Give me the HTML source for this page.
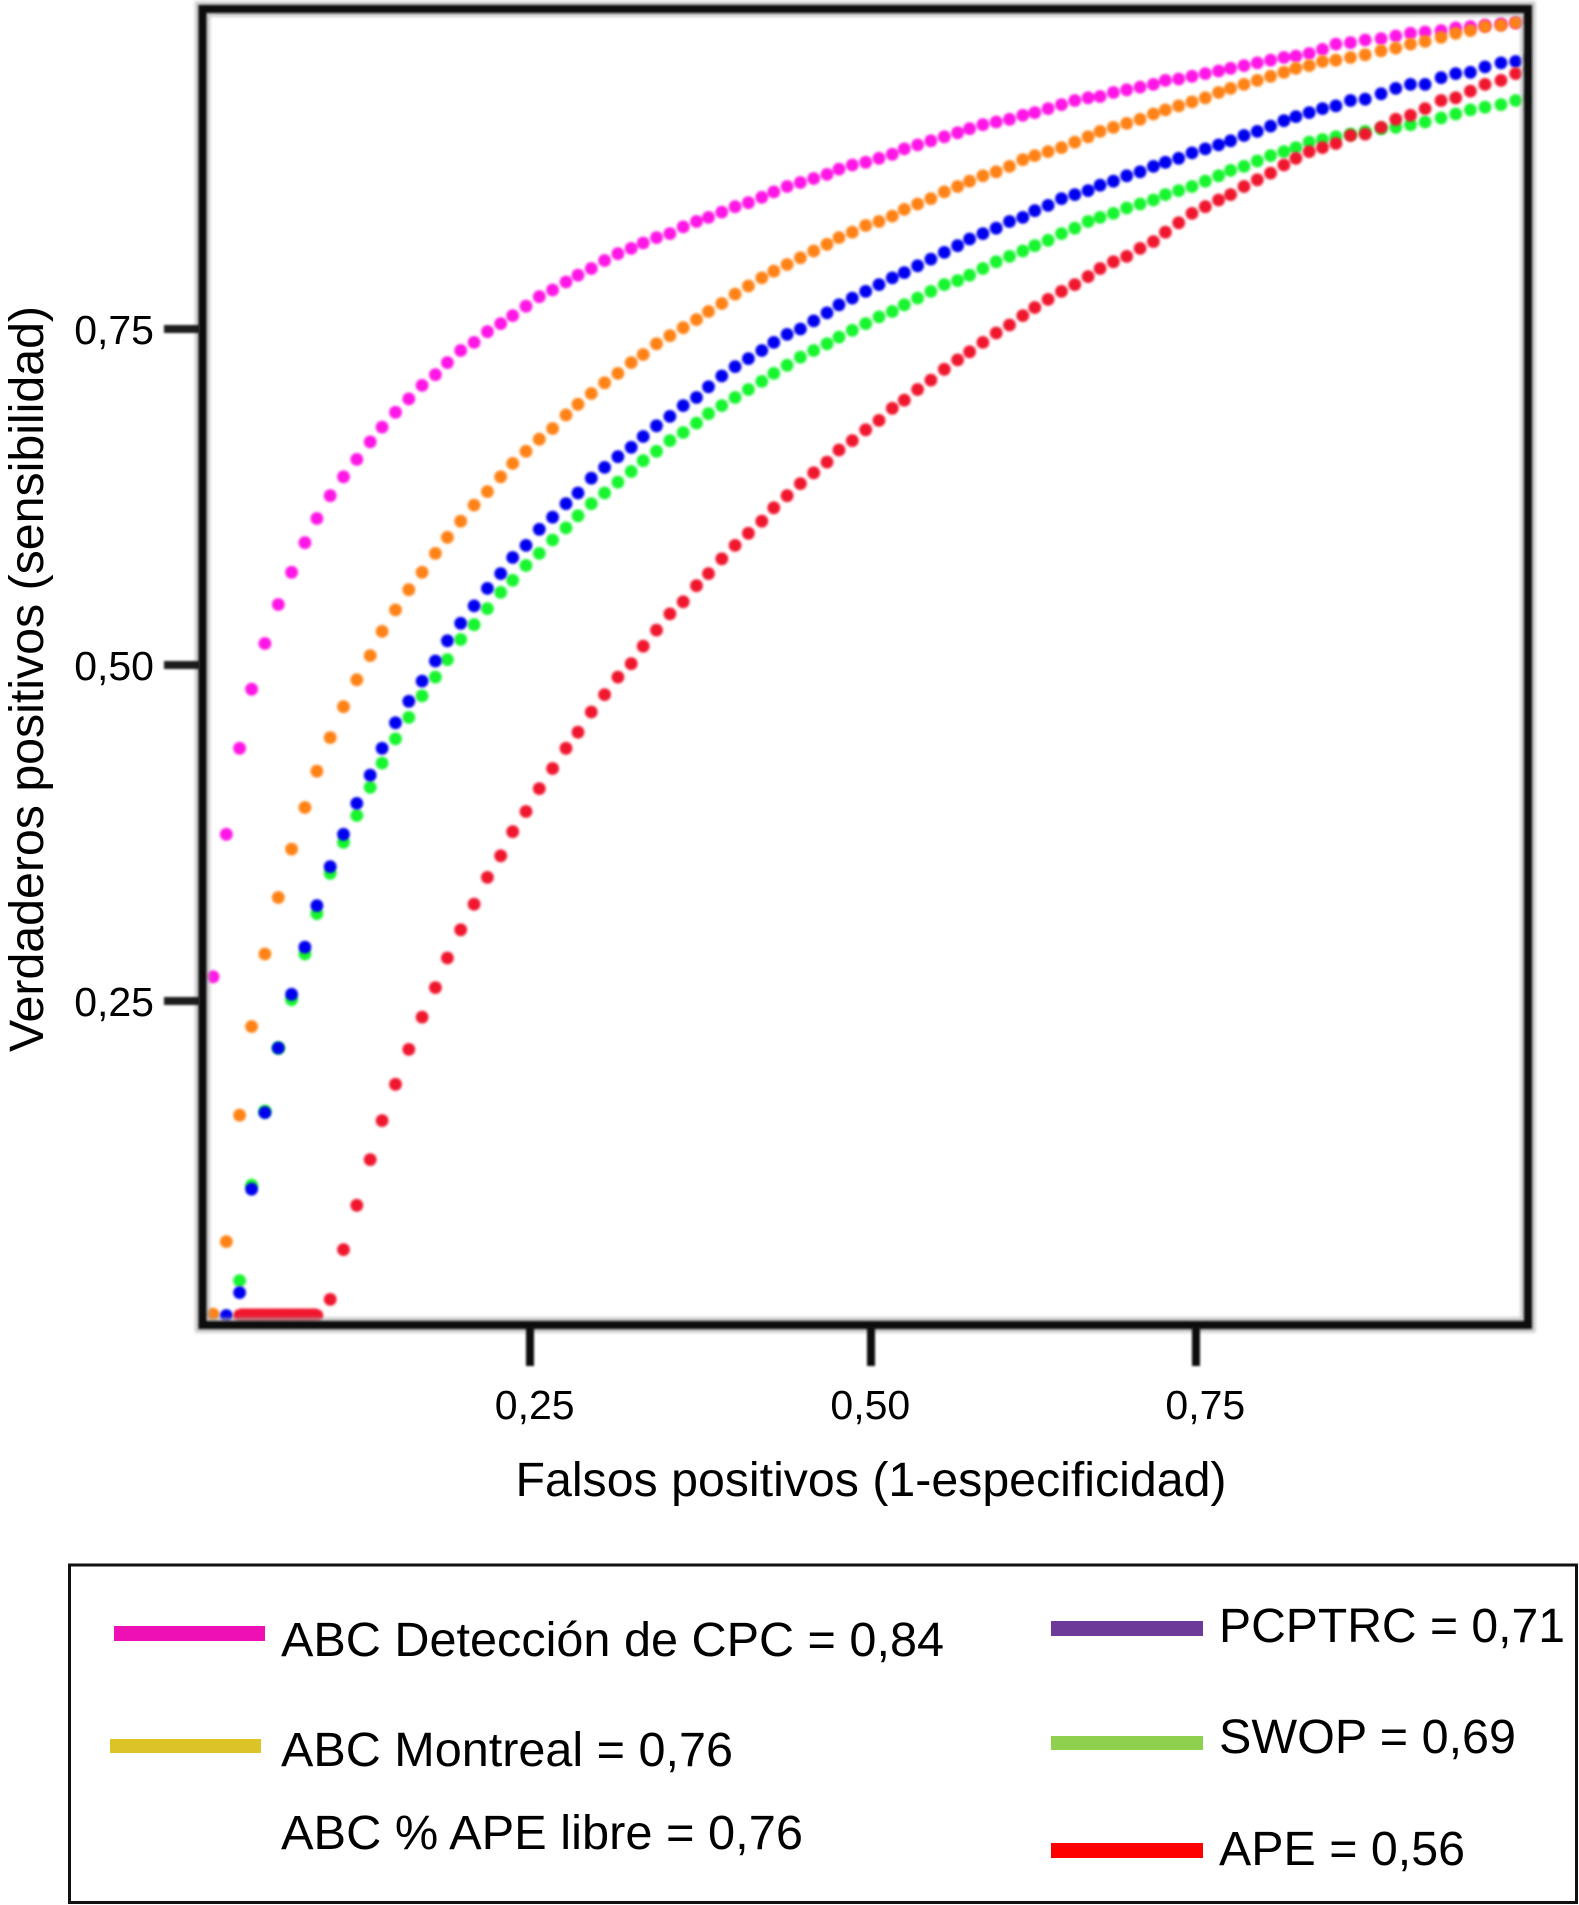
<!DOCTYPE html>
<html lang="es">
<head>
<meta charset="utf-8">
<title>Curvas ROC</title>
<style>
html,body{margin:0;padding:0;background:#fff;}
svg{display:block;}
text{font-family:"Liberation Sans",sans-serif;fill:#000;}
</style>
</head>
<body>
<svg id="chart" xmlns="http://www.w3.org/2000/svg" width="1579" height="1905" viewBox="0 0 1579 1905">
  <defs>
    <filter id="dot-blur" filterUnits="userSpaceOnUse" x="0" y="0" width="1579" height="1400"><feGaussianBlur stdDeviation="1.4"/></filter>
    <filter id="frame-blur" filterUnits="userSpaceOnUse" x="0" y="0" width="1579" height="1400"><feGaussianBlur stdDeviation="1"/></filter>
    <filter id="halo-blur" filterUnits="userSpaceOnUse" x="0" y="0" width="1579" height="1400"><feGaussianBlur stdDeviation="1.6"/></filter>
    <clipPath id="plot-clip"><rect x="198" y="6" width="1333" height="1322"/></clipPath>
  </defs>
  <rect x="0" y="0" width="1579" height="1905" fill="#fff"/>
  <g id="series-layer" clip-path="url(#plot-clip)"></g>
  <g>
    <rect x="202.5" y="9" width="1325.5" height="1316" fill="none" stroke="#a8a8a8" stroke-opacity="0.65" stroke-width="15" filter="url(#halo-blur)"/>
    <rect x="202.5" y="9" width="1325.5" height="1316" fill="none" stroke="#0a0a0a" stroke-width="8" filter="url(#frame-blur)"/>
  </g>
  <g id="axis-layer"></g>
  <text x="871" y="1496" font-size="48" text-anchor="middle" textLength="711" lengthAdjust="spacingAndGlyphs">Falsos positivos (1-especificidad)</text>
  <text x="43" y="679" font-size="48" text-anchor="middle" textLength="746" lengthAdjust="spacingAndGlyphs" transform="rotate(-90 43 679)">Verdaderos positivos (sensibilidad)</text>

  <g>
    <rect x="69.5" y="1565" width="1507" height="337.5" fill="#fff" stroke="#111" stroke-width="3"/>
    <rect x="114" y="1626" width="151" height="15" fill="#ee10b5"/>
    <text x="281" y="1656" font-size="48" textLength="663" lengthAdjust="spacingAndGlyphs">ABC Detección de CPC = 0,84</text>
    <rect x="110" y="1739" width="151" height="14" fill="#dcc327"/>
    <text x="281" y="1766" font-size="48" textLength="452" lengthAdjust="spacingAndGlyphs">ABC Montreal = 0,76</text>
    <text x="281" y="1849" font-size="48" textLength="522" lengthAdjust="spacingAndGlyphs">ABC % APE libre = 0,76</text>
    <rect x="1051" y="1621" width="152" height="15" fill="#6d3a9a"/>
    <text x="1219" y="1642" font-size="48" textLength="346" lengthAdjust="spacingAndGlyphs">PCPTRC = 0,71</text>
    <rect x="1051" y="1736" width="152" height="14" fill="#8fd14f"/>
    <text x="1219" y="1753" font-size="48" textLength="297" lengthAdjust="spacingAndGlyphs">SWOP = 0,69</text>
    <rect x="1051" y="1843" width="152" height="15" fill="#ff0000"/>
    <text x="1219" y="1865" font-size="48" textLength="246" lengthAdjust="spacingAndGlyphs">APE = 0,56</text>
  </g>
</svg>
<script>
const fpr = [.012,.022,.032,.041,.051,.061,.071,.081,.090,.100,.110,.120,.130,.139,.149,.159,.169,.179,.188,.198,.208,.218,.228,.237,.247,.257,.267,.277,.286,.296,.306,.316,.326,.335,.345,.355,.365,.375,.384,.394,.404,.414,.424,.433,.443,.453,.463,.473,.482,.492,.502,.512,.522,.531,.541,.551,.561,.571,.580,.590,.600,.610,.620,.629,.639,.649,.659,.669,.678,.688,.698,.708,.718,.727,.737,.747,.757,.767,.776,.786,.796,.806,.816,.825,.835,.845,.855,.866,.877,.889,.900,.911,.922,.934,.945,.956,.967,.979,.990,1.001];

const tprCpc = [.268,.374,.438,.482,.516,.545,.569,.591,.609,.626,.640,.653,.666,.677,.688,.698,.708,.716,.725,.734,.740,.748,.754,.760,.767,.774,.779,.785,.790,.795,.801,.806,.810,.814,.818,.821,.826,.830,.833,.837,.841,.844,.848,.852,.856,.859,.862,.865,.869,.872,.874,.877,.880,.884,.887,.890,.893,.896,.899,.902,.904,.906,.909,.911,.914,.917,.920,.922,.923,.926,.928,.930,.932,.935,.936,.938,.940,.942,.944,.946,.948,.950,.952,.953,.955,.958,.962,.963,.965,.966,.968,.970,.971,.972,.974,.975,.976,.977,.978,.980];

const tprMontreal = [.017,.071,.165,.231,.285,.327,.363,.394,.421,.446,.469,.489,.507,.525,.541,.556,.569,.583,.595,.607,.619,.629,.640,.650,.659,.668,.676,.686,.694,.702,.710,.717,.725,.731,.739,.745,.751,.757,.763,.769,.776,.782,.788,.793,.798,.803,.808,.813,.818,.822,.827,.830,.834,.839,.843,.847,.852,.856,.860,.864,.867,.871,.876,.879,.882,.885,.889,.893,.897,.900,.903,.906,.910,.913,.916,.919,.922,.926,.929,.932,.935,.938,.941,.944,.946,.949,.950,.952,.954,.957,.959,.962,.964,.967,.970,.972,.975,.976,.978,.980];

const tprPcptrc = [null,.016,.033,.110,.167,.215,.255,.290,.321,.350,.374,.397,.418,.438,.457,.473,.488,.503,.518,.531,.544,.557,.568,.580,.589,.601,.610,.620,.628,.639,.647,.655,.662,.670,.678,.685,.693,.699,.707,.715,.722,.728,.734,.740,.746,.750,.756,.762,.768,.773,.778,.783,.788,.792,.797,.802,.807,.812,.817,.821,.825,.830,.833,.838,.842,.847,.850,.853,.857,.860,.864,.867,.871,.874,.877,.881,.884,.887,.890,.894,.897,.901,.905,.908,.911,.914,.916,.920,.921,.925,.929,.932,.932,.937,.940,.941,.945,.948,.949,.952];

const tprSwop = [null,null,.042,.113,.168,.215,.251,.285,.315,.345,.368,.388,.409,.427,.445,.461,.477,.491,.504,.519,.530,.542,.554,.563,.574,.583,.593,.602,.611,.620,.628,.636,.644,.652,.659,.667,.673,.680,.687,.693,.699,.705,.711,.717,.723,.729,.734,.739,.744,.749,.754,.759,.763,.768,.773,.778,.783,.786,.790,.795,.800,.804,.808,.812,.816,.821,.825,.830,.833,.836,.840,.843,.846,.850,.853,.856,.860,.864,.868,.871,.875,.879,.882,.885,.889,.891,.893,.895,.897,.899,.900,.902,.904,.907,.910,.913,.915,.917,.920,.922];

const tprPsa = [null,null,.016,.016,.016,.016,.016,.016,.016,.028,.065,.098,.132,.161,.188,.214,.238,.260,.282,.303,.322,.342,.358,.376,.391,.408,.423,.438,.450,.465,.478,.491,.501,.514,.526,.538,.547,.559,.568,.579,.589,.598,.607,.617,.626,.635,.643,.651,.660,.667,.675,.682,.691,.697,.705,.712,.720,.727,.733,.740,.747,.753,.760,.766,.772,.778,.783,.789,.795,.800,.804,.810,.815,.822,.829,.836,.841,.846,.850,.856,.861,.866,.872,.877,.882,.885,.888,.894,.895,.900,.906,.909,.914,.920,.922,.927,.932,.935,.940,.943];

const xTickValues = [0.25, 0.506, 0.75];
const xLabelAnchors = [0.2535, 0.5055, 0.757];
const xTickLabels = ['0,25', '0,50', '0,75'];
const yTickValues = [0.25, 0.50, 0.75];
const yTickLabels = ['0,25', '0,50', '0,75'];

const floorValue = 0.016;

function xScale(v) { return 197 + 1332 * v; }
function yScale(v) { return 1337 - 1344 * v; }

const NS = 'http://www.w3.org/2000/svg';
const seriesLayer = document.getElementById('series-layer');
const axisLayer = document.getElementById('axis-layer');

function drawSeries(values, color, label) {
  const g = document.createElementNS(NS, 'g');
  
  
  g.setAttribute('fill', color);
  g.setAttribute('stroke', color);
  g.setAttribute('stroke-width', '0');
  g.setAttribute('filter', 'url(#dot-blur)');
  values.forEach(function (v, i) {
    if (v === null) return;
    const c = document.createElementNS(NS, 'circle');
    
    
    c.setAttribute('cx', xScale(fpr[i]).toFixed(1));
    c.setAttribute('cy', yScale(v).toFixed(1));
    c.setAttribute('r', '6.4');
    g.appendChild(c);
    if (i > 0 && v === floorValue && values[i - 1] === floorValue) {
      const run = document.createElementNS(NS, 'line');
      
      
      run.setAttribute('x1', xScale(fpr[i - 1]).toFixed(1));
      run.setAttribute('x2', xScale(fpr[i]).toFixed(1));
      run.setAttribute('y1', yScale(v).toFixed(1));
      run.setAttribute('y2', yScale(v).toFixed(1));
      run.setAttribute('stroke-width', '14');
      g.appendChild(run);
    }
  });
  seriesLayer.appendChild(g);
}

drawSeries(tprCpc, '#ff14e6', 'series-abc-cpc');
drawSeries(tprMontreal, '#ff8214', 'series-abc-montreal');
drawSeries(tprSwop, '#14f52d', 'series-swop');
drawSeries(tprPcptrc, '#0000f0', 'series-pcptrc');
drawSeries(tprPsa, '#f0142d', 'series-ape');

xTickValues.forEach(function (v, i) {
  const t = document.createElementNS(NS, 'line');
  
  
  t.setAttribute('x1', xScale(v).toFixed(1));
  t.setAttribute('x2', xScale(v).toFixed(1));
  t.setAttribute('y1', '1326');
  t.setAttribute('y2', '1366');
  t.setAttribute('stroke', '#111');
  t.setAttribute('stroke-width', '8');
  t.setAttribute('filter', 'url(#frame-blur)');
  axisLayer.appendChild(t);
  const l = document.createElementNS(NS, 'text');
  
  
  l.setAttribute('x', xScale(xLabelAnchors[i]).toFixed(1));
  l.setAttribute('y', '1419');
  l.setAttribute('font-size', '41');
  l.setAttribute('text-anchor', 'middle');
  l.textContent = xTickLabels[i];
  axisLayer.appendChild(l);
});

yTickValues.forEach(function (v, i) {
  const t = document.createElementNS(NS, 'line');
  
  
  t.setAttribute('x1', '164');
  t.setAttribute('x2', '200');
  t.setAttribute('y1', yScale(v).toFixed(1));
  t.setAttribute('y2', yScale(v).toFixed(1));
  t.setAttribute('stroke', '#1a1a1a');
  t.setAttribute('stroke-width', '8');
  t.setAttribute('filter', 'url(#frame-blur)');
  axisLayer.appendChild(t);
  const l = document.createElementNS(NS, 'text');
  
  
  l.setAttribute('x', '154');
  l.setAttribute('y', (yScale(v) + 15).toFixed(1));
  l.setAttribute('font-size', '41');
  l.setAttribute('text-anchor', 'end');
  l.textContent = yTickLabels[i];
  axisLayer.appendChild(l);
});
</script>
</body>
</html>
